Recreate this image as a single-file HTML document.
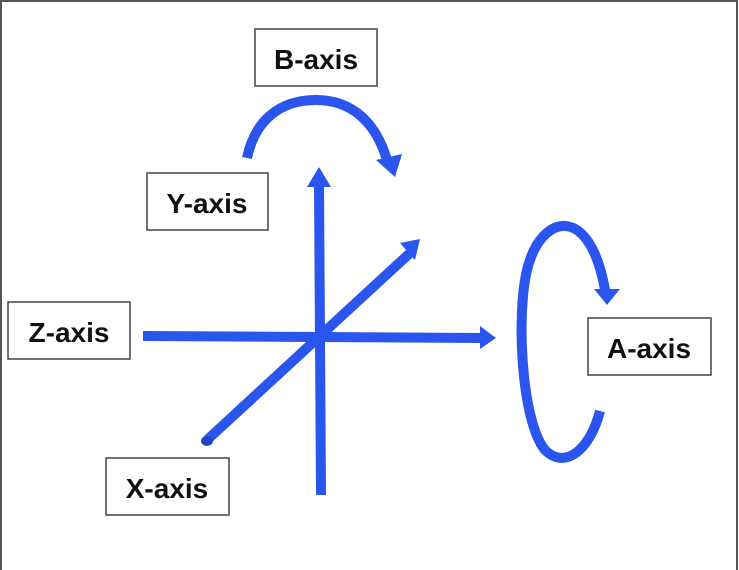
<!DOCTYPE html>
<html><head><style>
body{margin:0;background:#fff}
svg{display:block}
text{font-family:"Liberation Sans",sans-serif;font-size:28px;font-weight:bold;fill:#111}
</style></head><body>
<svg width="739" height="570" viewBox="0 0 739 570">
<rect x="1" y="1" width="736" height="570" fill="#fff" stroke="#555" stroke-width="2"/>
<g stroke="#2a55ee" stroke-width="10" fill="none" stroke-linecap="butt">
<line x1="319" y1="184" x2="321" y2="495"/>
<line x1="143" y1="336" x2="482" y2="338"/>
<line x1="207" y1="440" x2="410" y2="253"/>
<path d="M247 158 C255 120,280 100,316 100 C350 100,375 120,387 160"/>
<path d="M600 411 C590 450,565 470,545 450 C520 420,515 300,530 260 C545 215,590 205,605 290"/>
</g>
<g fill="#2a55ee">
<polygon points="307,187 319,167 331,187"/>
<polygon points="480,326 496,338 480,349"/>
<polygon points="400,243 420,239 415,260"/>
<polygon points="376,160 402,154 395,177"/>
<polygon points="594,289 620,289 607,305"/>
<ellipse cx="207" cy="441" rx="6" ry="5" fill="#1f44cc"/>
</g>
<g fill="#fff" stroke="#444" stroke-width="1.5">
<rect x="255" y="29" width="122" height="57"/>
<rect x="147" y="173" width="121" height="57"/>
<rect x="8" y="302" width="122" height="57"/>
<rect x="588" y="318" width="123" height="57"/>
<rect x="106" y="458" width="123" height="57"/>
</g>
<text x="316" y="69" text-anchor="middle">B-axis</text>
<text x="207" y="213" text-anchor="middle">Y-axis</text>
<text x="69" y="342" text-anchor="middle">Z-axis</text>
<text x="649" y="358" text-anchor="middle">A-axis</text>
<text x="167" y="498" text-anchor="middle">X-axis</text>
</svg>
</body></html>
